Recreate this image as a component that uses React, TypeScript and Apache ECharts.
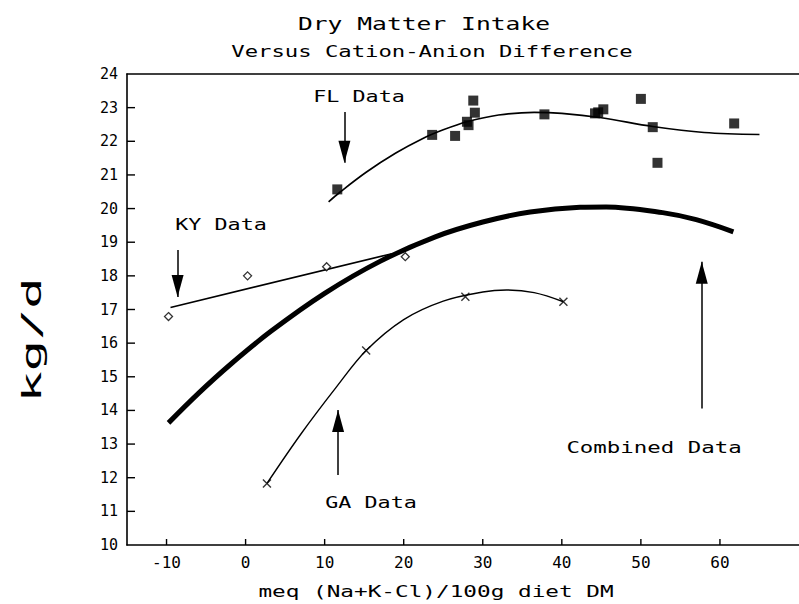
import React, { useEffect, useRef } from "react";
import * as echarts from "echarts";

// ---- data ----
const X_MIN = -15;
const X_MAX = 70;
const Y_MIN = 10;
const Y_MAX = 24;
const X_TICKS = [-10, 0, 10, 20, 30, 40, 50, 60];
const Y_TICKS = [11, 12, 13, 14, 15, 16, 17, 18, 19, 20, 21, 22, 23];

const FL_X = [11.6, 23.6, 26.5, 28.0, 28.2, 28.8, 29.0, 37.8, 44.2, 44.6, 45.25, 50.0, 51.5, 52.1, 61.8];
const FL_Y = [20.57, 22.19, 22.16, 22.58, 22.48, 23.21, 22.85, 22.8, 22.83, 22.86, 22.95, 23.26, 22.42, 21.36, 22.53];
const FL_FIT_X = [10.5, 12, 15.25, 19, 22.3, 25, 28, 32, 36.5, 40, 45, 51.5, 58, 65];
const FL_FIT_Y = [20.2, 20.5, 21.08, 21.65, 22.07, 22.34, 22.58, 22.78, 22.86, 22.83, 22.7, 22.44, 22.26, 22.2];

const KY_X = [-9.75, 0.25, 10.25, 20.2];
const KY_Y = [16.79, 18.0, 18.27, 18.57];
const KY_FIT_X = [-9.5, 18.5];
const KY_FIT_Y = [17.06, 18.66];

const GA_X = [2.7, 15.25, 27.8, 40.2];
const GA_Y = [11.83, 15.78, 17.38, 17.23];
const GA_FIT_X = [2.7, 7, 11.5, 15.25, 20, 25, 30, 33, 36.5, 40.2];
const GA_FIT_Y = [11.83, 13.3, 14.7, 15.78, 16.7, 17.25, 17.52, 17.58, 17.5, 17.23];

const ALL_FIT_X = [-9.75, -6, -2, 3.2, 10, 17, 24, 30, 36, 42.3, 45.6, 52.75, 57, 61.7];
const ALL_FIT_Y = [13.63, 14.5, 15.35, 16.35, 17.48, 18.43, 19.16, 19.6, 19.9, 20.04, 20.05, 19.88, 19.67, 19.31];

// arrows: [x, yStart, yTip]
const ARROWS = [
  [12.5, 22.87, 21.36],
  [-8.6, 18.77, 17.37],
  [11.7, 12.08, 14.01],
  [57.7, 14.06, 18.42],
];

const MONO = "DejaVu Sans Mono";

function pairs(xs: number[], ys: number[]) {
  return xs.map((x, i) => [x, ys[i]]);
}

function label(text: string, x: number, y: number, size: number, sx: number, rotation = 0) {
  return {
    type: "text",
    x,
    y,
    rotation,
    scaleX: sx,
    silent: true,
    style: {
      text,
      fontSize: size,
      fontFamily: MONO,
      fill: "#000",
      align: "center",
      verticalAlign: "middle",
    },
  };
}

export default function App() {
  const ref = useRef<HTMLDivElement>(null);

  useEffect(() => {
    if (!ref.current) return;
    const chart = echarts.init(ref.current, null, { renderer: "svg" });
    const axisLine = { show: true, onZero: false, lineStyle: { color: "#000", width: 1.6 } };
    const option: any = {
      animation: false,
      backgroundColor: "#fff",
      grid: {
        left: 127,
        right: -8,
        top: 74,
        bottom: 59,
        show: false,
        containLabel: false,
      },
      xAxis: [
        {
          type: "value",
          position: "bottom",
          min: X_MIN,
          max: X_MAX,
          axisLine,
          axisTick: { show: false },
          axisLabel: {
            customValues: X_TICKS,
            color: "#000",
            fontFamily: MONO,
            fontSize: 16,
            margin: 9,
          },
          splitLine: { show: false },
        },
        {
          type: "value",
          position: "top",
          min: X_MIN,
          max: X_MAX,
          axisLine,
          axisTick: { show: false },
          axisLabel: { show: false },
          splitLine: { show: false },
        },
      ],
      yAxis: {
        type: "value",
        position: "left",
        min: Y_MIN,
        max: Y_MAX,
        interval: 1,
        axisLine,
        axisTick: { show: false },
        axisLabel: { color: "#000", fontFamily: MONO, fontSize: 15, margin: 9 },
        splitLine: { show: false },
      },
      graphic: [
        label("Dry Matter Intake", 424, 24, 17, 1.45),
        label("Versus Cation-Anion Difference", 432, 52, 16, 1.39),
        label("meq (Na+K-Cl)/100g diet DM", 436, 592, 16, 1.42),
        label("kg/d", 32, 340, 26, 2.0, Math.PI / 2),
        label("FL Data", 359, 97, 16, 1.36),
        label("KY Data", 221, 225, 16, 1.36),
        label("GA Data", 371, 503, 16, 1.36),
        label("Combined Data", 654, 448, 16, 1.4),
      ],
      series: [
        {
          name: "y ticks",
          type: "custom",
          silent: true,
          clip: false,
          data: Y_TICKS.map((v) => [X_MIN, v]),
          renderItem: (_p: any, api: any) => {
            const p = api.coord([api.value(0), api.value(1)]);
            return {
              type: "line",
              shape: { x1: p[0], y1: p[1], x2: p[0] + 8, y2: p[1] },
              style: { stroke: "#000", lineWidth: 1.4 },
            };
          },
          z: 10,
        },
        {
          name: "x ticks",
          type: "custom",
          silent: true,
          clip: false,
          data: X_TICKS.map((v) => [v, Y_MIN]),
          renderItem: (_p: any, api: any) => {
            const p = api.coord([api.value(0), api.value(1)]);
            return {
              type: "line",
              shape: { x1: p[0], y1: p[1], x2: p[0], y2: p[1] - 6 },
              style: { stroke: "#000", lineWidth: 1.4 },
            };
          },
          z: 10,
        },
        {
          name: "Combined fit",
          type: "line",
          data: pairs(ALL_FIT_X, ALL_FIT_Y),
          smooth: 0.35,
          showSymbol: false,
          lineStyle: { color: "#000", width: 5 },
          z: 3,
          markLine: {
            silent: true,
            symbol: ["none", "triangle"],
            symbolSize: [12, 22],
            symbolOffset: [0, [0, 11]],
            lineStyle: { color: "#000", width: 1.5, type: "solid" },
            itemStyle: { color: "#000" },
            label: { show: false },
            emphasis: { disabled: true },
            data: ARROWS.map((a) => [{ coord: [a[0], a[1]] }, { coord: [a[0], a[2]] }]),
          },
        },
        {
          name: "FL fit",
          type: "line",
          data: pairs(FL_FIT_X, FL_FIT_Y),
          smooth: 0.35,
          showSymbol: false,
          lineStyle: { color: "#000", width: 1.6 },
        },
        {
          name: "FL",
          type: "scatter",
          data: pairs(FL_X, FL_Y),
          symbol: "rect",
          symbolSize: 10,
          itemStyle: { color: "#000" },
          z: 5,
        },
        {
          name: "KY fit",
          type: "line",
          data: pairs(KY_FIT_X, KY_FIT_Y),
          showSymbol: false,
          lineStyle: { color: "#000", width: 1.6 },
        },
        {
          name: "KY",
          type: "scatter",
          data: pairs(KY_X, KY_Y),
          symbol: "diamond",
          symbolSize: 8,
          itemStyle: { color: "#fff", borderColor: "#000", borderWidth: 1.3 },
          z: 5,
        },
        {
          name: "GA fit",
          type: "line",
          data: pairs(GA_FIT_X, GA_FIT_Y),
          smooth: 0.35,
          showSymbol: false,
          lineStyle: { color: "#000", width: 1.4 },
        },
        {
          name: "GA",
          type: "scatter",
          data: pairs(GA_X, GA_Y),
          symbol: "path://M0,0L10,10M10,0L0,10",
          symbolSize: 8,
          itemStyle: { color: "none", borderColor: "#000", borderWidth: 1.4 },
          z: 5,
        },
      ],
    };
    chart.setOption(option);
    return () => chart.dispose();
  }, []);

  return (
    <div
      ref={ref}
      style={{ position: "fixed", left: 0, top: 0, width: 799, height: 604, background: "#fff" }}
    />
  );
}
